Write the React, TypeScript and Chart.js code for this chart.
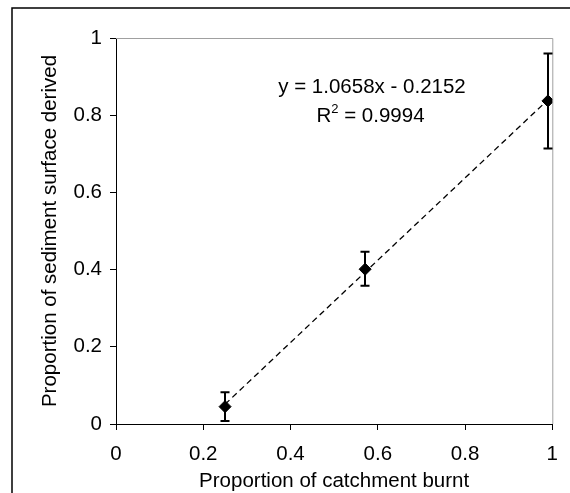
import React, { useEffect, useRef } from "react";
import { Chart, registerables } from "chart.js";

Chart.register(...registerables);

// Data
const xValues = [0.25, 0.571, 0.99];
const yValues = [0.045, 0.401, 0.837];
const errLow = [0.008, 0.358, 0.714];
const errHigh = [0.082, 0.446, 0.96];

const trendSlope = 1.0658;
const trendIntercept = -0.2152;
const equationText = "y = 1.0658x - 0.2152";
const r2Value = "0.9994";

const xTitle = "Proportion of catchment burnt";
const yTitle = "Proportion of sediment surface derived";

const FONT = "'Liberation Sans', Arial, Helvetica, sans-serif";
const FS = 20.5;

const fmt = (v: any) => String(Math.round(Number(v) * 10) / 10);

const decorPlugin = {
  id: "decor",
  beforeDatasetsDraw(chart: any) {
    const { ctx, chartArea, scales } = chart;
    const xs = scales.x;
    const ys = scales.y;
    ctx.save();
    // plot-area top/right border (gray)
    ctx.strokeStyle = "#a0a0a0";
    ctx.lineWidth = 1;
    ctx.beginPath();
    ctx.moveTo(chartArea.left, chartArea.top + 0.5);
    ctx.lineTo(chartArea.right + 0.5, chartArea.top + 0.5);
    ctx.lineTo(chartArea.right + 0.5, chartArea.bottom);
    ctx.stroke();
    // error bars
    ctx.strokeStyle = "#000";
    ctx.lineWidth = 2;
    for (let i = 0; i < xValues.length; i++) {
      const px = Math.round(xs.getPixelForValue(xValues[i]));
      const lo = ys.getPixelForValue(errLow[i]);
      const hi = ys.getPixelForValue(errHigh[i]);
      ctx.beginPath();
      ctx.moveTo(px, lo);
      ctx.lineTo(px, hi);
      ctx.moveTo(px - 4.5, lo);
      ctx.lineTo(px + 4.5, lo);
      ctx.moveTo(px - 4.5, hi);
      ctx.lineTo(px + 4.5, hi);
      ctx.stroke();
    }
    ctx.restore();
  },
  afterDraw(chart: any) {
    const { ctx, chartArea } = chart;
    ctx.save();
    // outer frame (only top and left visible)
    ctx.strokeStyle = "#000";
    ctx.lineWidth = 1.5;
    ctx.beginPath();
    ctx.moveTo(12, 600);
    ctx.lineTo(12, 8);
    ctx.lineTo(700, 8);
    ctx.stroke();

    ctx.fillStyle = "#000";
    ctx.font = `${FS}px ${FONT}`;
    // x title
    ctx.textAlign = "center";
    ctx.textBaseline = "alphabetic";
    const cx = (chartArea.left + chartArea.right) / 2;
    ctx.fillText(xTitle, cx, 487);
    // y title
    ctx.save();
    ctx.translate(56, (chartArea.top + chartArea.bottom) / 2);
    ctx.rotate(-Math.PI / 2);
    ctx.fillText(yTitle, 0, 0);
    ctx.restore();

    // equation
    ctx.textAlign = "center";
    ctx.fillText(equationText, 372, 93);
    // R² line
    ctx.textAlign = "left";
    const r = "R";
    const rest = " = " + r2Value;
    ctx.font = `${FS}px ${FONT}`;
    const wR = ctx.measureText(r).width;
    const wRest = ctx.measureText(rest).width;
    ctx.font = `13px ${FONT}`;
    const w2 = ctx.measureText("2").width;
    const total = wR + w2 + wRest;
    let sx = 370.5 - total / 2;
    ctx.font = `${FS}px ${FONT}`;
    ctx.fillText(r, sx, 122);
    sx += wR;
    ctx.font = `13px ${FONT}`;
    ctx.fillText("2", sx, 113);
    sx += w2;
    ctx.font = `${FS}px ${FONT}`;
    ctx.fillText(rest, sx, 122);
    ctx.restore();
  },
};

export default function App() {
  const ref = useRef<HTMLCanvasElement | null>(null);

  useEffect(() => {
    if (!ref.current) return;
    const x0 = xValues[0];
    const x1 = xValues[xValues.length - 1];
    const trend = [
      { x: x0, y: trendSlope * x0 + trendIntercept },
      { x: x1, y: trendSlope * x1 + trendIntercept },
    ];
    const chart = new Chart(ref.current, {
      type: "scatter",
      data: {
        datasets: [
          {
            type: "line",
            data: trend,
            borderColor: "#000",
            borderWidth: 1.3,
            borderDash: [6, 4],
            pointRadius: 0,
            fill: false,
            order: 2,
          } as any,
          {
            data: xValues.map((x, i) => ({ x, y: yValues[i] })),
            pointStyle: "rectRot",
            pointRadius: 6,
            backgroundColor: "#000",
            borderColor: "#000",
            borderWidth: 1,
            showLine: false,
            order: 1,
          },
        ],
      },
      options: {
        responsive: false,
        animation: false,
        devicePixelRatio: 1,
        layout: { padding: { top: 38, right: 13, left: 0, bottom: 0 } },
        plugins: {
          legend: { display: false },
          tooltip: { enabled: false },
        },
        font: { family: FONT, size: FS },
        scales: {
          x: {
            type: "linear",
            min: 0,
            max: 1,
            ticks: {
              stepSize: 0.2,
              color: "#000",
              font: { family: FONT, size: FS },
              padding: 12,
              maxRotation: 0,
              callback: fmt,
            },
            grid: {
              drawOnChartArea: false,
              drawTicks: true,
              tickLength: 6,
              tickColor: "#000",
              color: "#000",
            },
            border: { display: true, color: "#000", width: 1 },
            afterFit(scale: any) {
              scale.height = 69;
            },
          },
          y: {
            type: "linear",
            min: 0,
            max: 1,
            ticks: {
              stepSize: 0.2,
              color: "#000",
              font: { family: FONT, size: FS },
              padding: 8,
              callback: fmt,
            },
            grid: {
              drawOnChartArea: false,
              drawTicks: true,
              tickLength: 6,
              tickColor: "#000",
              color: "#000",
            },
            border: { display: true, color: "#000", width: 1 },
            afterFit(scale: any) {
              scale.width = 116;
            },
          },
        },
      } as any,
      plugins: [decorPlugin],
    });
    return () => chart.destroy();
  }, []);

  return (
    <canvas
      ref={ref}
      width={570}
      height={493}
      style={{ position: "absolute", left: 0, top: 0, width: 570, height: 493, background: "#fff" }}
    />
  );
}
